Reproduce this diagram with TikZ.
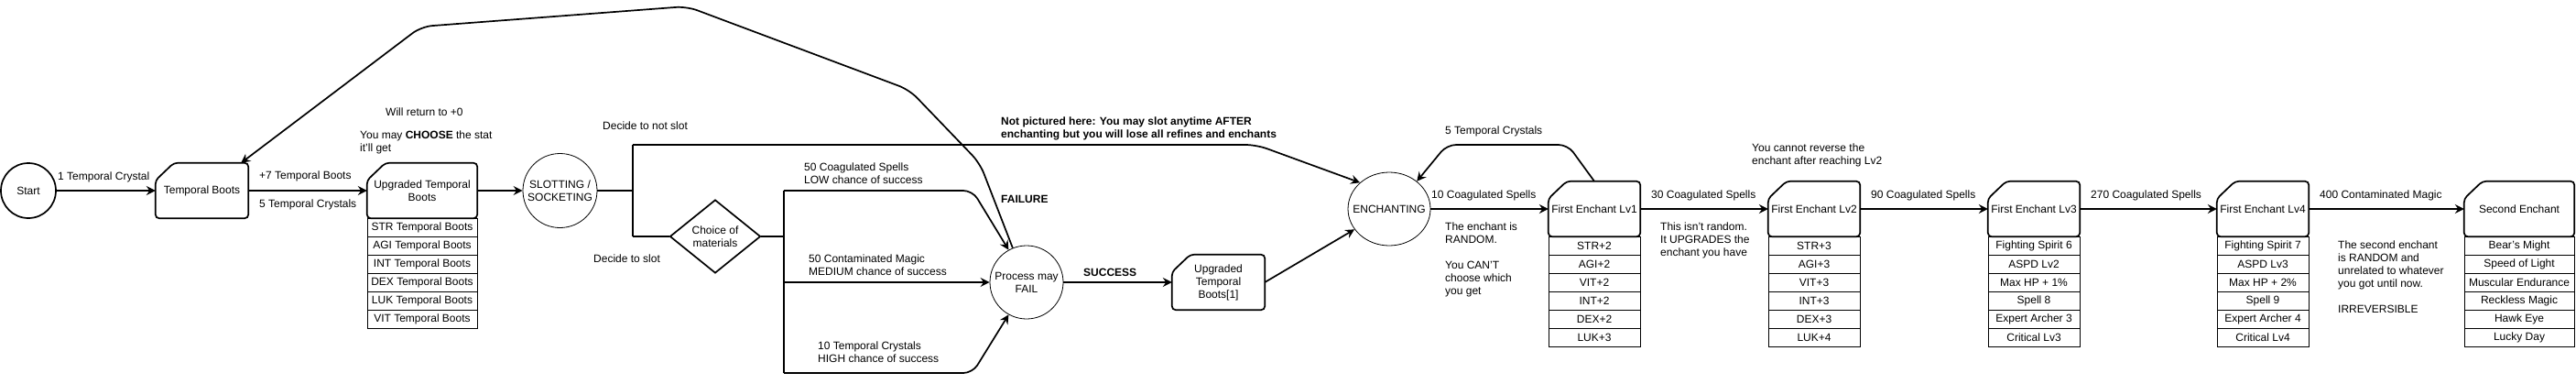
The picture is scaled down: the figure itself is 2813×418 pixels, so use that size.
\documentclass[tikz,border=0pt]{standalone}
\usepackage{fontspec}
\setmainfont{Liberation Sans}
\usetikzlibrary{shapes.geometric,arrows.meta}
\begin{document}
\begin{tikzpicture}[x=1pt,y=-1pt,
  every node/.style={font=\fontsize{12}{14}\selectfont, inner sep=0pt},
  lbl/.style={anchor=base west, align=left},
  conn/.style={line width=1.7pt},
  arr/.style={conn, -{Stealth[length=10pt,width=10pt,inset=3.5pt]}},
  cardbox/.style={minimum width=#1, minimum height=60pt, align=center},
  cardbox/.default=101pt,
  cell/.style={draw, line width=0.9pt, minimum width=#1, minimum height=20pt},
  thincirc/.style={circle, draw, line width=0.8pt, align=center},
]
\useasboundingbox (0,0) rectangle (2813,418);

% ---------- main nodes ----------
\node[circle, draw, line width=1.7pt, minimum size=60pt] (start) at (31,208) {Start};
\node[cardbox] (tb) at (220.5,208) {Temporal Boots};
\node[cardbox=120pt] (utb) at (461,208) {Upgraded Temporal\\Boots};
\node[thincirc, minimum size=81pt] (slot) at (611.5,208) {SLOTTING /\\SOCKETING};
\node[diamond, draw, line width=1.7pt, aspect=1.25, minimum width=99pt, minimum height=80pt, align=center] (dia) at (781,258) {Choice of\\materials};
\node[thincirc, minimum size=80pt] (proc) at (1121,308) {Process may\\FAIL};
\node[cardbox] (tbone) at (1330.5,308) {Upgraded\\Temporal\\Boots[1]};
\node[ellipse, draw, line width=0.8pt, minimum width=90pt, minimum height=80pt,
      label={[inner sep=0pt]center:ENCHANTING}] (ench) at (1517,228) {};
\node[cardbox=100pt] (lvone) at (1741,228) {First Enchant Lv1};
\node[cardbox=100pt] (lvtwo) at (1981,228) {First Enchant Lv2};
\node[cardbox=100pt] (lvthree) at (2221,228) {First Enchant Lv3};
\node[cardbox=100pt] (lvfour) at (2471,228) {First Enchant Lv4};
\node[cardbox=120pt] (sec) at (2751,228) {Second Enchant};

% card outlines (cut top-left corner)
\foreach \n in {tb,utb,tbone,lvone,lvtwo,lvthree,lvfour,sec}
  \draw[conn, rounded corners=4pt] ([xshift=20pt]\n.north west) -- (\n.north east)
     -- (\n.south east) -- (\n.south west) -- ([yshift=-19pt]\n.north west) -- cycle;

% ---------- tables ----------
\foreach \t [count=\i] in {STR Temporal Boots, AGI Temporal Boots, INT Temporal Boots,
    DEX Temporal Boots, LUK Temporal Boots, VIT Temporal Boots}
  \node[cell=120pt] (utbr\i) at (461,{228+20*\i}) {\t};
\foreach \t [count=\i] in {STR+2, AGI+2, VIT+2, INT+2, DEX+2, LUK+3}
  \node[cell=100pt] (lvoner\i) at (1741,{248+20*\i}) {\t};
\foreach \t [count=\i] in {STR+3, AGI+3, VIT+3, INT+3, DEX+3, LUK+4}
  \node[cell=100pt] (lvtwor\i) at (1981,{248+20*\i}) {\t};
\foreach \t [count=\i] in {Fighting Spirit 6, ASPD Lv2, Max HP + 1\%, Spell 8, Expert Archer 3, Critical Lv3}
  \node[cell=100pt] (lvthreer\i) at (2221,{248+20*\i}) {\t};
\foreach \t [count=\i] in {Fighting Spirit 7, ASPD Lv3, Max HP + 2\%, Spell 9, Expert Archer 4, Critical Lv4}
  \node[cell=100pt] (lvfourr\i) at (2471,{248+20*\i}) {\t};
\foreach \t [count=\i] in {Bear's Might, Speed of Light, Muscular Endurance, Reckless Magic, Hawk Eye, Lucky Day}
  \node[cell=120pt] (secr\i) at (2751,{248+20*\i}) {\t};

% ---------- junctions ----------
\coordinate (jone) at (691,208);
\coordinate (jonet) at (691,158);
\coordinate (joneb) at (691,258);
\coordinate (jtwo) at (856,258);
\coordinate (jtwot) at (856,208);
\coordinate (jtwom) at (856,308);
\coordinate (jtwob) at (856,407);

% ---------- connectors ----------
\draw[arr] (start) -- (tb);
\draw[arr] (tb) -- (utb);
\draw[arr] (utb) -- (slot);
\draw[conn] (slot) -- (jone);
\draw[conn] (jonet) -- (joneb);
\draw[conn] (joneb) -- (dia);
\draw[conn] (dia) -- (jtwo);
\draw[conn] (jtwot) -- (jtwob);
\draw[arr, rounded corners=10pt] (jtwot) -- (1062,208) -- (proc.119);
\draw[arr] (jtwom) -- (proc);
\draw[arr, rounded corners=10pt] (jtwob) -- (1062,407) -- (proc.241);
\draw[arr, rounded corners=12pt] (proc.112) -- (1070,178) -- (993,98) -- (750,7) -- (460,29) -- ([xshift=-8pt]tb.north east);
\draw[arr] (proc) -- (tbone);
\draw[arr] (tbone.east) -- (ench);
\draw[arr, rounded corners=12pt] (jonet) -- (1372,158) -- (ench.138);
\draw[arr] (ench) -- (lvone);
\draw[arr, rounded corners=10pt] (lvone.north) -- (1712,158) -- (1580,158) -- (ench.45);
\draw[arr] (lvone) -- (lvtwo);
\draw[arr] (lvtwo) -- (lvthree);
\draw[arr] (lvthree) -- (lvfour);
\draw[arr] (lvfour) -- (sec);

% ---------- labels (anchor = baseline of last line) ----------
\node[lbl] (l1) at (63,196.5) {1 Temporal Crystal};
\node[lbl] (l2) at (283,195.5) {+7 Temporal Boots};
\node[lbl] (l3) at (283,226.5) {5 Temporal Crystals};
\node[lbl] (l4) at (421,126.5) {Will return to +0};
\node[lbl] (l5) at (393,165.5) {You may \textbf{CHOOSE} the stat\\it'll get};
\node[lbl] (l6) at (658,141.5) {Decide to not slot};
\node[lbl] (l7) at (648,286.5) {Decide to slot};
\node[lbl] (l8) at (878,200.5) {50 Coagulated Spells\\LOW chance of success};
\node[lbl] (l9) at (883,300.5) {50 Contaminated Magic\\MEDIUM chance of success};
\node[lbl] (l10) at (893,395.5) {10 Temporal Crystals\\HIGH chance of success};
\node[lbl, font=\fontsize{12}{14}\selectfont\bfseries] (l11) at (1093,150.5) {Not pictured here: You may slot anytime AFTER\\enchanting but you will lose all refines and enchants};
\node[lbl, font=\fontsize{12}{14}\selectfont\bfseries] (l12) at (1093,221.5) {FAILURE};
\node[lbl, font=\fontsize{12}{14}\selectfont\bfseries] (l13) at (1183,301.5) {SUCCESS};
\node[lbl] (l14) at (1578,146.5) {5 Temporal Crystals};
\node[lbl] (l15) at (1563,216.5) {10 Coagulated Spells};
\node[lbl] (l16) at (1578,321.5) {The enchant is\\RANDOM.\\[14pt]You CAN'T\\choose which\\you get};
\node[lbl] (l17) at (1803,216.5) {30 Coagulated Spells};
\node[lbl] (l18) at (1813,279.5) {This isn't random.\\It UPGRADES the\\enchant you have};
\node[lbl] (l19) at (1913,179.5) {You cannot reverse the\\enchant after reaching Lv2};
\node[lbl] (l20) at (2043,216.5) {90 Coagulated Spells};
\node[lbl] (l21) at (2283,216.5) {270 Coagulated Spells};
\node[lbl] (l22) at (2533,216.5) {400 Contaminated Magic};
\node[lbl] (l23) at (2553,341.5) {The second enchant\\is RANDOM and\\unrelated to whatever\\you got until now.\\[14pt]IRREVERSIBLE};
\end{tikzpicture}
\end{document}
